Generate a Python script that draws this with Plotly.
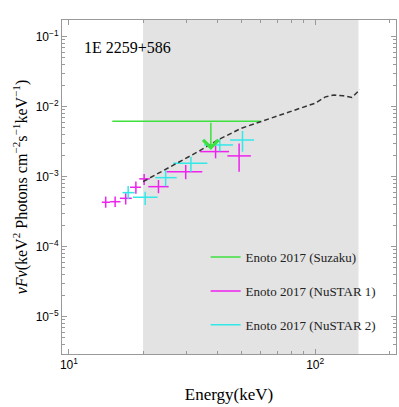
import numpy as np
import plotly.graph_objects as go

# NuSTAR 1 (magenta) crosses: energy, energy low/high, flux, flux low/high
nu1_e = [14.1, 15.4, 17.0, 18.7, 20.2, 23.1, 29.8, 39.4, 49.1]
nu1_elo = [13.6, 14.7, 16.1, 17.7, 19.3, 21.0, 24.9, 34.1, 44.0]
nu1_ehi = [14.7, 16.2, 18.0, 19.6, 21.3, 25.4, 34.8, 44.7, 54.8]
nu1_f = [4.31e-4, 4.39e-4, 4.91e-4, 7.06e-4, 9.3e-4, 7.2e-4, 1.18e-3, 2.28e-3, 1.98e-3]
nu1_flo = [3.6e-4, 3.7e-4, 4.0e-4, 5.7e-4, 7.6e-4, 5.8e-4, 9.2e-4, 1.83e-3, 1.18e-3]
nu1_fhi = [5.2e-4, 5.2e-4, 5.8e-4, 8.5e-4, 1.09e-3, 8.96e-4, 1.47e-3, 2.75e-3, 2.98e-3]

# NuSTAR 2 (cyan) crosses
nu2_e = [17.4, 20.4, 24.7, 31.3, 41.0, 50.7]
nu2_elo = [16.5, 18.2, 22.4, 26.5, 35.4, 45.1]
nu2_ehi = [18.5, 22.9, 27.4, 36.5, 46.4, 56.5]
nu2_f = [5.91e-4, 5.08e-4, 9.68e-4, 1.55e-3, 2.84e-3, 3.34e-3]
nu2_flo = [4.75e-4, 3.95e-4, 7.3e-4, 1.18e-3, 2.3e-3, 2.27e-3]
nu2_fhi = [7.37e-4, 6.1e-4, 1.23e-3, 1.93e-3, 3.47e-3, 4.49e-3]

# Suzaku upper limit
suz_e = 37.7
suz_elo = 15.0
suz_ehi = 60.0
suz_f = 6.2e-3
suz_arrow_to = 2.4e-3

# model curve (dashed)
model_e = [20, 27.4, 34, 40, 50, 60, 70, 87, 100, 110, 119, 130, 141, 152]
model_f = [8.5e-4, 1.55e-3, 2.35e-3, 3.3e-3, 4.9e-3, 6.1e-3, 7.4e-3, 9.5e-3,
           1.12e-2, 1.38e-2, 1.47e-2, 1.43e-2, 1.35e-2, 1.75e-2]

# shaded band
band_lo, band_hi = 20, 150

xtick_vals = [10, 100]
xtick_text = ["10<sup>1</sup>", "10<sup>2</sup>"]
ytick_vals = [1e-5, 1e-4, 1e-3, 1e-2, 1e-1]
ytick_text = ["10<sup>−5</sup>", "10<sup>−4</sup>", "10<sup>−3</sup>", "10<sup>−2</sup>", "10<sup>−1</sup>"]

GREEN = "#3ee03e"
MAGENTA = "#ee22ee"
CYAN = "#33e8e8"
serif = "Liberation Serif, Times New Roman, serif"
sans = "Liberation Sans, Arial, sans-serif"

fig = go.Figure()
fig.add_vrect(x0=band_lo, x1=band_hi, fillcolor="#e3e3e3", line_width=0, layer="below")


def cross(e, elo, ehi, f, flo, fhi, color):
    e, elo, ehi = np.array(e), np.array(elo), np.array(ehi)
    f, flo, fhi = np.array(f), np.array(flo), np.array(fhi)
    return go.Scatter(
        x=e, y=f, mode="markers", marker=dict(size=1, color=color),
        showlegend=False,
        error_x=dict(type="data", array=ehi - e, arrayminus=e - elo,
                     color=color, thickness=1.5, width=0),
        error_y=dict(type="data", array=fhi - f, arrayminus=f - flo,
                     color=color, thickness=1.5, width=0))


fig.add_trace(cross(nu1_e, nu1_elo, nu1_ehi, nu1_f, nu1_flo, nu1_fhi, MAGENTA))
fig.add_trace(cross(nu2_e, nu2_elo, nu2_ehi, nu2_f, nu2_flo, nu2_fhi, CYAN))

fig.add_trace(go.Scatter(x=[suz_elo, suz_ehi], y=[suz_f, suz_f], mode="lines",
                         line=dict(color=GREEN, width=1.5), showlegend=False))
fig.add_annotation(x=np.log10(suz_e), y=np.log10(suz_arrow_to),
                   ax=np.log10(suz_e), ay=np.log10(suz_f), axref="x", ayref="y",
                   text="", showarrow=True, arrowhead=4, arrowsize=2,
                   arrowwidth=1.5, arrowcolor=GREEN, standoff=0)

fig.add_trace(go.Scatter(x=model_e, y=model_f, mode="lines",
                         line=dict(color="#333333", width=1.5, dash="5px,3px"),
                         showlegend=False))

# legend entries
for i, (name, c) in enumerate([("Enoto 2017 (Suzaku)", GREEN),
                               ("Enoto 2017 (NuSTAR 1)", MAGENTA),
                               ("Enoto 2017 (NuSTAR 2)", CYAN)]):
    fig.add_trace(go.Scatter(x=[None], y=[None], mode="lines", name=name,
                             legendgroup=str(i), line=dict(color=c, width=1.5)))

fig.add_annotation(x=0.06, y=0.95, xref="paper", yref="paper", text="1E 2259+586",
                   showarrow=False, xanchor="left", yanchor="top",
                   font=dict(family=serif, size=16, color="black"))

axis_common = dict(type="log", showgrid=False, zeroline=False, mirror="allticks",
                   showline=True, linecolor="#999999", linewidth=1,
                   ticks="inside", ticklen=5, tickcolor="#999999",
                   tickfont=dict(family=sans, size=12, color="black"),
                   minor=dict(ticks="inside", ticklen=3, tickcolor="#999999", dtick="D1"))

fig.update_xaxes(range=[np.log10(9.37), np.log10(213)], tickvals=xtick_vals,
                 ticktext=xtick_text,
                 title=dict(text="Energy(keV)", font=dict(family=serif, size=17, color="black"),
                            standoff=16),
                 **axis_common)
fig.update_yaxes(range=[np.log10(2.93e-6), np.log10(0.173)], tickvals=ytick_vals,
                 ticktext=ytick_text,
                 title=dict(text="<i>νFν</i>(keV<sup>2</sup> Photons cm<sup>−2</sup>s<sup>−1</sup>keV<sup>−1</sup>)",
                            font=dict(family=serif, size=16, color="black"), standoff=4),
                 **axis_common)

fig.update_layout(
    width=399, height=407, margin=dict(l=62, r=3, t=20, b=53),
    plot_bgcolor="white", paper_bgcolor="white",
    legend=dict(x=0.43, y=0.335, xanchor="left", yanchor="top",
                bgcolor="rgba(0,0,0,0)", tracegroupgap=14, itemwidth=30,
                font=dict(family=serif, size=13, color="#222222")),
)

fig.write_html("out.html", config={"displayModeBar": False},
               post_script="document.body.style.margin='0';document.body.style.overflow='hidden';")
